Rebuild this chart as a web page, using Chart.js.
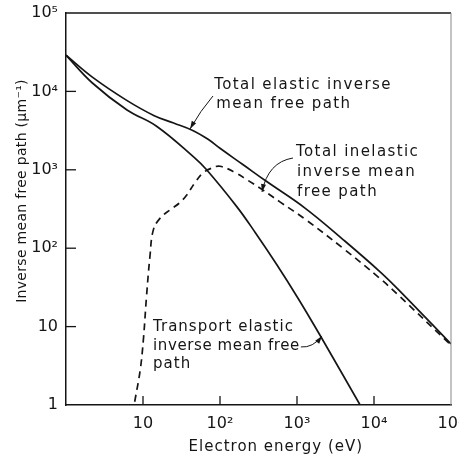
<!DOCTYPE html>
<html>
<head>
<meta charset="utf-8">
<script src="https://cdn.jsdelivr.net/npm/chart.js@4.4.1/dist/chart.umd.min.js"></script>
<style>
  html, body { margin: 0; padding: 0; background: #fff; }
  #wrap { width: 459px; height: 460px; }
</style>
</head>
<body>
<div id="wrap"><canvas id="pathChart"></canvas></div>
<script>
// tick labels
const energyTicks = [10, 100, 1000, 10000, 100000];
const energyTickLabels = ['10', '10²', '10³', '10⁴', '10⁵'];
const pathTicks = [1, 10, 100, 1000, 10000, 100000];
const pathTickLabels = ['1', '10', '10²', '10³', '10⁴', '10⁵'];

// total elastic inverse mean free path (solid, upper)
const elasticE = [1, 2.2, 6, 14, 25, 45, 70, 100, 200, 400, 1270, 4000, 12000, 22000, 100000];
const elasticV = [29000, 15200, 7800, 4900, 3950, 3150, 2450, 1880, 1160, 713, 325, 128, 50, 28, 6];

// total inelastic inverse mean free path (dashed)
const inelasticE = [7.8, 9.2, 10.1, 11.1, 12.3, 13.6, 16.6, 22.5, 30, 37, 47, 60, 78, 100, 165, 222, 363, 600, 1270, 4000, 12000, 20000, 100000];
const inelasticV = [1.1, 2.8, 6.7, 24, 78, 170, 240, 309, 380, 478, 680, 910, 1050, 1110, 900, 750, 550, 390, 235, 99, 41, 26, 5.8];

// transport elastic inverse mean free path (solid, lower)
const transportE = [1, 2.2, 6.2, 15, 45, 67, 165, 285, 545, 1040, 2000, 6600];
const transportV = [29000, 12800, 5800, 3600, 1470, 1000, 339, 160, 62, 22.7, 7.7, 1];

const toPoints = (xs, ys) => xs.map((x, i) => ({ x: x, y: ys[i] }));

const FONT = 'DejaVu Sans';
const INK = '#151515';

function drawArrow(ctx, tail, ctrl, head) {
  ctx.beginPath();
  ctx.moveTo(tail.x, tail.y);
  ctx.quadraticCurveTo(ctrl.x, ctrl.y, head.x, head.y);
  ctx.stroke();
  const ang = Math.atan2(head.y - ctrl.y, head.x - ctrl.x);
  const len = 8, half = 2.5;
  ctx.beginPath();
  ctx.moveTo(head.x, head.y);
  ctx.lineTo(head.x - len * Math.cos(ang) + half * Math.sin(ang), head.y - len * Math.sin(ang) - half * Math.cos(ang));
  ctx.lineTo(head.x - len * Math.cos(ang) - half * Math.sin(ang), head.y - len * Math.sin(ang) + half * Math.cos(ang));
  ctx.closePath();
  ctx.fill();
}

const decorations = {
  id: 'decorations',
  afterDraw(chart) {
    const { ctx, chartArea: a, scales: { x, y } } = chart;
    const px = (e, v) => ({ x: x.getPixelForValue(e), y: y.getPixelForValue(v) });
    ctx.save();

    // frame: top and right
    ctx.strokeStyle = INK;
    ctx.lineWidth = 1.5;
    ctx.beginPath();
    ctx.moveTo(a.left, a.top);
    ctx.lineTo(a.right, a.top);
    ctx.stroke();
    ctx.strokeStyle = '#888';
    ctx.lineWidth = 1;
    ctx.beginPath();
    ctx.moveTo(a.right, a.top);
    ctx.lineTo(a.right, a.bottom);
    ctx.stroke();

    // inward ticks
    ctx.strokeStyle = INK;
    ctx.lineWidth = 1.3;
    pathTicks.slice(1, -1).forEach(v => {
      const py = y.getPixelForValue(v);
      ctx.beginPath();
      ctx.moveTo(a.left, py);
      ctx.lineTo(a.left + 10, py);
      ctx.stroke();
    });
    energyTicks.slice(0, -1).forEach(e => {
      const xx = x.getPixelForValue(e);
      ctx.beginPath();
      ctx.moveTo(xx, a.bottom);
      ctx.lineTo(xx, a.bottom - 9);
      ctx.stroke();
    });

    // curve labels
    ctx.fillStyle = INK;
    ctx.font = '15px "' + FONT + '"';
    ctx.letterSpacing = '1.4px';
    ctx.textBaseline = 'middle';
    ctx.textAlign = 'left';

    let p = px(84, 12000);
    ctx.fillText('Total elastic inverse', p.x, p.y);
    ctx.fillText('mean free path', p.x + 2, p.y + 19);

    p = px(971, 1690);
    ctx.fillText('Total inelastic', p.x, p.y);
    ctx.fillText('inverse mean', p.x + 1, p.y + 20);
    ctx.fillText('free path', p.x + 1, p.y + 40);

    ctx.letterSpacing = '1px';
    p = px(13.5, 9.9);
    ctx.fillText('Transport elastic', p.x, p.y);
    ctx.letterSpacing = '0.6px';
    ctx.fillText('inverse mean free', p.x, p.y + 19);
    const freeEnd = p.x + ctx.measureText('inverse mean free').width;
    ctx.letterSpacing = '1px';
    ctx.fillText('path', p.x, p.y + 37);

    // leader arrows
    ctx.lineWidth = 1;
    let t = px(81, 8730), h = px(40.8, 3315);
    drawArrow(ctx, t, { x: (t.x + h.x) / 2 - 1, y: (t.y + h.y) / 2 - 2 }, h);
    t = px(887, 1414); h = px(351, 521);
    drawArrow(ctx, t, { x: h.x + 6, y: t.y + 4 }, h);
    h = px(2113, 7.6);
    t = { x: freeEnd + 1, y: p.y + 20 };
    drawArrow(ctx, t, { x: h.x - 9, y: t.y + 1 }, h);

    // axis titles
    ctx.font = '15px "' + FONT + '"';
    ctx.letterSpacing = '1px';
    ctx.textAlign = 'center';
    ctx.fillText('Electron energy (eV)', a.left + (a.right - a.left) * 0.545, a.bottom + 42);
    ctx.save();
    ctx.translate(22, a.top + 178);
    ctx.rotate(-Math.PI / 2);
    ctx.font = '14px "' + FONT + '"';
    ctx.letterSpacing = '0.3px';
    ctx.fillText('Inverse mean free path (μm⁻¹)', 0, 0);
    ctx.restore();

    ctx.restore();
  }
};

const lineStyle = {
  borderColor: INK,
  borderWidth: 1.7,
  pointRadius: 0,
  fill: false,
  tension: 0.4
};

new Chart(document.getElementById('pathChart').getContext('2d'), {
  type: 'line',
  data: {
    datasets: [
      Object.assign({ label: 'Total elastic inverse mean free path', data: toPoints(elasticE, elasticV) }, lineStyle),
      Object.assign({ label: 'Total inelastic inverse mean free path', data: toPoints(inelasticE, inelasticV), borderDash: [7, 5] }, lineStyle),
      Object.assign({ label: 'Transport elastic inverse mean free path', data: toPoints(transportE, transportV) }, lineStyle)
    ]
  },
  options: {
    responsive: true,
    maintainAspectRatio: false,
    animation: false,
    layout: { padding: { top: 13, right: 8, left: 0, bottom: 0 } },
    plugins: { legend: { display: false }, tooltip: { enabled: false } },
    scales: {
      x: {
        type: 'logarithmic',
        min: 1,
        max: 100000,
        grid: { display: false, drawTicks: false },
        border: { display: true, color: INK, width: 1.5 },
        afterBuildTicks: s => { s.ticks = energyTicks.map(v => ({ value: v })); },
        afterFit: s => { s.height = 55; s.paddingLeft = 0; s.paddingRight = 0; },
        ticks: {
          autoSkip: false,
          maxRotation: 0,
          padding: 9,
          color: INK,
          font: { family: FONT, size: 16 },
          callback: v => energyTickLabels[energyTicks.indexOf(v)]
        }
      },
      y: {
        type: 'logarithmic',
        min: 1,
        max: 100000,
        grid: { display: false, drawTicks: false },
        border: { display: true, color: INK, width: 1.5 },
        afterBuildTicks: s => { s.ticks = pathTicks.map(v => ({ value: v })); },
        afterFit: s => { s.width = 66; s.paddingTop = 0; s.paddingBottom = 0; },
        ticks: {
          autoSkip: false,
          padding: 8,
          color: INK,
          font: { family: FONT, size: 16 },
          callback: v => pathTickLabels[pathTicks.indexOf(v)]
        }
      }
    }
  },
  plugins: [decorations]
});
</script>
</body>
</html>
